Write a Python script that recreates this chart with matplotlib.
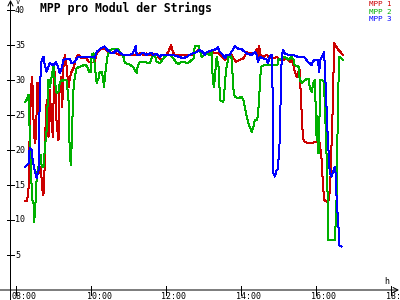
import numpy as np
import matplotlib.pyplot as plt

# minutes after 08:00 and MPP voltage per module (V)
mpp1_min = [15, 18, 20, 21, 22, 24, 26, 28, 30, 32, 34, 36, 37, 40, 41, 43, 45, 46, 48, 50,
            52, 54, 57, 59, 61, 62, 65, 68, 69, 72, 74, 76, 78, 81, 84, 86, 89, 92, 94, 97,
            100, 105, 113, 116, 121, 126, 129, 134, 140, 145, 150, 156, 161, 166, 172, 177,
            182, 187, 193, 198, 204, 209, 214, 220, 225, 230, 233, 236, 241, 245, 248, 251,
            254, 260, 265, 273, 281, 286, 292, 294, 302, 310, 318, 324, 329, 334, 340, 345,
            348, 352, 358, 364, 369, 374, 380, 382, 386, 388, 389, 391, 396, 401, 406, 412,
            417, 422, 428, 433, 438, 441, 444, 446, 449, 452, 454, 456, 458, 459, 462, 470,
            478, 484, 486, 489, 491, 493, 497, 501, 503, 505, 507, 509, 510, 516, 523]
mpp1_val = [12.7, 12.8, 14.5, 20.0, 22.1, 28.9, 30.4, 24.3, 21.0, 21.9, 29.6, 29.4, 16.7, 17.6,
            15.7, 13.6, 14.0, 19.0, 26.1, 27.1, 21.9, 28.6, 23.8, 21.9, 31.4, 31.0, 23.8, 21.4,
            27.6, 30.4, 26.1, 31.9, 33.6, 31.9, 29.0, 30.2, 31.2, 31.7, 32.4, 33.3, 33.6, 33.1,
            33.1, 32.6, 32.5, 32.5, 33.8, 34.3, 34.5, 34.3, 33.8, 34.0, 33.8, 33.6, 33.6, 33.5,
            33.5, 33.5, 33.6, 33.8, 33.6, 33.8, 33.6, 33.7, 33.6, 33.1, 32.9, 33.1, 33.6, 34.3,
            35.0, 34.0, 33.6, 33.6, 33.5, 33.6, 33.5, 33.8, 34.3, 34.0, 33.8, 34.0, 33.9, 33.8,
            33.4, 32.9, 33.3, 33.6, 33.1, 32.6, 32.9, 33.1, 34.0, 33.8, 33.9, 33.8, 34.5, 33.3,
            34.8, 33.6, 33.3, 33.6, 33.1, 33.1, 33.3, 32.9, 32.9, 33.1, 32.6, 32.9, 32.1, 31.2,
            30.4, 31.2, 31.4, 27.1, 23.8, 21.7, 21.1, 21.0, 21.1, 21.1, 21.0, 18.6, 15.3, 12.9,
            12.6, 12.9, 15.7, 21.4, 26.7, 35.3, 35.1, 34.3, 33.6]

mpp2_min = [15, 18, 20, 21, 22, 24, 26, 28, 29, 31, 32, 34, 36, 37, 40, 41, 44, 46, 49, 52,
            54, 57, 60, 62, 65, 68, 70, 73, 76, 78, 81, 84, 85, 86, 88, 90, 92, 94, 97, 102,
            108, 112, 114, 117, 120, 121, 124, 126, 128, 129, 132, 134, 137, 139, 141, 142,
            144, 146, 150, 156, 161, 164, 168, 172, 174, 180, 187, 190, 193, 195, 198, 204,
            209, 214, 217, 220, 222, 225, 230, 236, 241, 246, 252, 257, 260, 265, 270, 273,
            278, 284, 286, 292, 294, 297, 302, 305, 310, 313, 315, 317, 318, 321, 324, 325,
            327, 331, 333, 334, 337, 340, 343, 345, 348, 350, 356, 361, 364, 366, 369, 372,
            374, 377, 380, 382, 386, 388, 390, 392, 396, 406, 414, 418, 420, 425, 430, 436,
            441, 444, 446, 452, 454, 457, 460, 462, 468, 470, 473, 476, 478, 480, 481, 482,
            484, 486, 487, 492, 494, 497, 499, 500, 505, 510, 512, 513, 515, 517, 518, 523]
mpp2_val = [26.9, 27.3, 27.9, 25.7, 22.1, 16.7, 12.9, 12.4, 9.7, 11.9, 14.8, 16.7, 17.6, 18.6,
            19.3, 17.6, 17.6, 20.0, 22.9, 30.0, 29.0, 30.4, 32.1, 30.0, 28.1, 28.3, 29.6, 30.0,
            29.9, 30.0, 29.9, 27.1, 24.3, 19.0, 17.9, 23.8, 28.6, 30.4, 31.7, 31.9, 32.1, 32.1,
            31.9, 31.2, 31.2, 33.6, 33.8, 32.1, 30.4, 29.6, 30.2, 31.2, 31.2, 30.4, 29.0, 30.4,
            31.7, 33.3, 34.3, 34.4, 34.5, 34.3, 33.8, 33.3, 32.4, 32.3, 31.9, 31.4, 31.0, 32.1,
            32.6, 32.6, 32.5, 32.4, 33.1, 33.6, 33.6, 32.6, 32.4, 33.1, 33.6, 33.6, 33.1, 32.4,
            32.3, 32.6, 32.6, 32.4, 32.6, 33.1, 34.8, 34.9, 34.3, 33.3, 33.6, 33.8, 33.6, 34.0,
            29.6, 29.0, 30.4, 33.3, 31.9, 29.8, 27.1, 26.9, 27.3, 29.6, 31.9, 33.3, 33.6, 33.1,
            28.6, 27.6, 27.4, 27.6, 27.1, 26.1, 24.8, 23.8, 23.3, 22.6, 23.3, 24.3, 24.3, 26.1,
            29.0, 31.9, 32.1, 32.1, 32.1, 32.1, 32.9, 33.1, 33.3, 32.9, 33.3, 32.9, 32.1, 31.9,
            30.0, 29.6, 29.8, 30.0, 30.2, 29.0, 28.3, 29.6, 30.0, 24.8, 21.4, 24.8, 19.5, 26.1,
            30.0, 29.9, 27.1, 19.0, 11.9, 7.1, 7.1, 7.1, 10.4, 13.3, 26.1, 33.3, 33.3, 32.9]

mpp3_min = [15, 20, 22, 25, 27, 30, 33, 36, 37, 38, 41, 44, 46, 49, 52, 54, 60, 64, 67, 70,
            73, 76, 81, 86, 89, 94, 99, 107, 118, 126, 129, 134, 139, 142, 145, 150, 155, 161,
            166, 171, 177, 182, 187, 192, 193, 198, 203, 209, 214, 217, 219, 225, 230, 233,
            236, 241, 246, 251, 257, 262, 267, 273, 278, 283, 289, 294, 299, 302, 305, 310,
            315, 321, 323, 326, 331, 334, 337, 342, 348, 350, 355, 361, 366, 371, 377, 382,
            385, 387, 390, 395, 401, 403, 406, 409, 410, 412, 414, 417, 419, 422, 423, 425,
            427, 430, 435, 441, 446, 451, 457, 462, 467, 470, 473, 475, 478, 483, 485, 487,
            491, 493, 494, 496, 498, 500, 502, 505, 508, 510, 512, 513, 516, 517, 521]
mpp3_val = [17.6, 18.1, 20.3, 20.0, 18.3, 17.1, 16.0, 17.0, 20.0, 29.0, 32.9, 33.3, 32.1, 31.2,
            31.9, 32.4, 32.1, 32.6, 31.9, 31.0, 31.7, 32.9, 33.0, 33.0, 32.4, 32.6, 33.3, 33.3,
            33.3, 33.2, 34.0, 34.4, 34.7, 34.8, 34.4, 34.0, 33.8, 34.3, 33.9, 33.6, 33.6, 33.6,
            33.8, 34.9, 33.6, 33.6, 33.9, 33.6, 33.8, 33.9, 33.6, 33.7, 33.3, 33.6, 33.6, 33.6,
            33.6, 33.6, 33.4, 33.3, 33.1, 33.3, 33.6, 33.8, 34.0, 34.3, 34.0, 33.6, 34.0, 34.1,
            34.3, 34.4, 34.7, 34.0, 33.6, 33.1, 33.6, 33.6, 34.5, 34.9, 34.5, 34.4, 34.0, 33.7,
            33.6, 34.0, 33.6, 32.6, 33.3, 33.1, 32.9, 32.4, 33.3, 33.6, 32.0, 16.7, 16.2, 17.1,
            17.3, 21.4, 25.7, 32.9, 34.3, 33.8, 33.6, 33.6, 33.5, 33.3, 33.3, 33.2, 32.6, 32.4,
            32.1, 32.6, 32.9, 32.9, 31.2, 32.9, 33.6, 34.0, 31.9, 28.1, 23.3, 20.0, 16.7, 16.2,
            17.1, 17.6, 16.2, 12.9, 9.0, 6.4, 6.2]

series = [("MPP 1", mpp1_min, mpp1_val, "#cc0000"),
          ("MPP 2", mpp2_min, mpp2_val, "#00b000"),
          ("MPP 3", mpp3_min, mpp3_val, "#0000ff")]

y_ticks = [5, 10, 15, 20, 25, 30, 35, 40]
x_ticks = [8, 10, 12, 14, 16, 18]
x_labels = ["08:00", "10:00", "12:00", "14:00", "16:00", "18:00"]

W, H = 400, 300
fig = plt.figure(figsize=(4, 3), dpi=100)
ax = fig.add_axes([0, 0, 1, 1])
ax.set_axis_off()
ax.set_xlim(8 - 16 / 37.5, 8 + 384 / 37.5)
ax.set_ylim(-10 / 7, 290 / 7)

def fx(px):  # pixel column -> axes fraction
    return px / W

def fy(py):
    return 1 - py / H

mono = "DejaVu Sans Mono"
y_axis_t = 8 + (10.5 - 16) / 37.5
lw = 0.72  # one pixel

for name, mins, vals, col in series:
    t = 8 + np.array(mins) / 60.0
    ax.plot(t, vals, color=col, lw=lw, antialiased=False, zorder=3)

# axes with arrows
arrow = dict(arrowstyle="->,head_length=0.35,head_width=0.18", lw=lw, color="black",
             shrinkA=0, shrinkB=0)
ax.annotate("", xy=(fx(399), fy(290)), xytext=(fx(0), fy(290)), xycoords="axes fraction",
            arrowprops=arrow)
ax.annotate("", xy=(fx(10.5), fy(0)), xytext=(fx(10.5), fy(300)), xycoords="axes fraction",
            arrowprops=arrow)

for v in y_ticks:
    ax.plot([y_axis_t - 3.5 / 37.5, y_axis_t + 3.5 / 37.5], [v, v], color="black", lw=lw)
    ax.text(8 + (15 - 16) / 37.5, v, str(v), ha="left", va="center", fontsize=6,
            family=mono, color="black")

for t, lab in zip(x_ticks, x_labels):
    ax.plot([t, t], [4 / 7, -5 / 7], color="black", lw=lw)
    ax.text(t - 4.5 / 37.5, -0.3, lab, ha="left", va="top", fontsize=6,
            family=mono, color="black")

ax.text(fx(16), fy(2), "V", transform=ax.transAxes, ha="left", va="center",
        fontsize=5, family=mono)
ax.text(fx(384), fy(281), "h", transform=ax.transAxes, ha="left", va="center",
        fontsize=6, family=mono)

ax.text(fx(40), fy(8), "MPP pro Modul der Strings", transform=ax.transAxes,
        ha="left", va="center", fontsize=8.3, fontweight="bold", family=mono)

for i, (name, mins, vals, col) in enumerate(series):
    ax.text(fx(369), fy(4.5 + 7.3 * i), name, transform=ax.transAxes, ha="left",
            va="center", fontsize=5.4, family=mono, color=col)

fig.savefig("out.png", dpi=100)
